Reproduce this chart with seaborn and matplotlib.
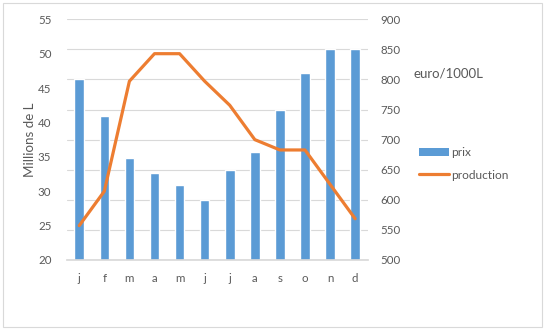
import matplotlib
matplotlib.use("Agg")
import matplotlib.pyplot as plt
import seaborn as sns
import pandas as pd
from matplotlib.patches import Rectangle, Patch
from matplotlib.lines import Line2D

months = ['j', 'f', 'm', 'a', 'm', 'j', 'j', 'a', 's', 'o', 'n', 'd']
prix = [800, 740, 670, 645, 625, 600, 650, 680, 750, 810, 850, 850]
production = [25, 30, 46, 50, 50, 46, 42.5, 37.5, 36, 36, 31, 26]

df = pd.DataFrame({'idx': list(range(len(months))), 'prix': prix, 'production': production})

sns.set_theme(style="white")
plt.rcParams['font.family'] = ['Lato', 'DejaVu Sans']

BLUE = '#5B9BD5'
ORANGE = '#ED7D31'
GRAY = '#595959'
GRID = '#D9D9D9'

fig = plt.figure(figsize=(5.45, 3.3), dpi=100)
ax = fig.add_axes([66.7/545, 1-260/330, (367.7-66.7)/545, (260-19.3)/330])
ax2 = ax.twinx()

sns.barplot(data=df, x='idx', y='prix', color=BLUE, width=0.38, ax=ax, saturation=1)
ax.set_ylim(500, 900)
ax.set_yticks(range(500, 901, 50))
ax.yaxis.tick_right()
ax.yaxis.set_label_position('right')
ax.grid(axis='y', color=GRID, linewidth=0.8)
ax.set_axisbelow(True)
ax.set_xlim(-0.5, len(months)-0.5)
ax.set_xticks(range(len(months)))
ax.set_xticklabels(months)
ax.set_xlabel('')
ax.set_ylabel('')

sns.lineplot(data=df, x='idx', y='production', color=ORANGE, linewidth=2.3, ax=ax2)
ax2.set_ylim(20, 55)
ax2.set_yticks(range(20, 56, 5))
ax2.yaxis.tick_left()
ax2.set_ylabel('')
ax2.set_xlabel('')

for a in (ax, ax2):
    for s in a.spines.values():
        s.set_visible(False)
    a.tick_params(axis='both', length=0, labelsize=8.3, labelcolor=GRAY)
ax.tick_params(axis='y', pad=9)
ax2.tick_params(axis='y', pad=11)
ax.tick_params(axis='x', pad=9)
ax.spines['bottom'].set_visible(True)
ax.spines['bottom'].set_color(GRID)

fig.text(30/545, 1-140/330, 'Millions de L', rotation=90, ha='center', va='center',
         fontsize=9.6, color=GRAY)
fig.text(413/545, 1-73/330, 'euro/1000L', ha='left', va='center', fontsize=9.5, color=GRAY)

handles = [Patch(facecolor=BLUE, edgecolor='none'),
           Line2D([0], [0], color=ORANGE, linewidth=2.3)]
leg = fig.legend(handles, ['prix', 'production'], loc='center left',
                 bbox_to_anchor=(408/545, 1-164/330), frameon=False, fontsize=8.6,
                 handlelength=2.5, handletextpad=0.2, labelspacing=0.95)
for t in leg.get_texts():
    t.set_color(GRAY)

fig.patches.append(Rectangle((3/545, 3/330), 539/545, 324/330, transform=fig.transFigure,
                             fill=False, edgecolor=GRID, linewidth=0.8))

fig.savefig('out.png', dpi=100)
